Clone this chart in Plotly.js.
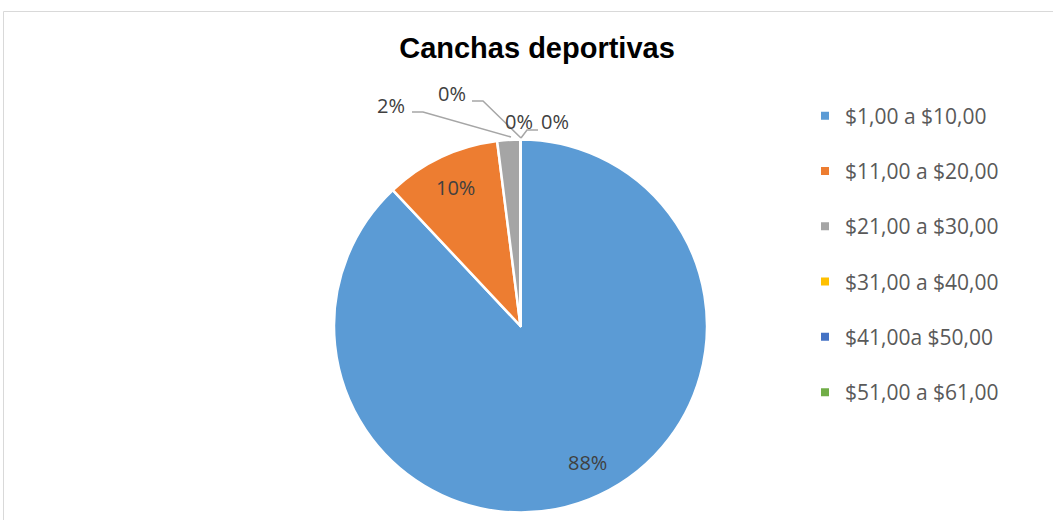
<!DOCTYPE html>
<html>
<head>
<meta charset="utf-8">
<script src="https://cdn.plot.ly/plotly-3.0.1.min.js"></script>
<style>html,body{margin:0;padding:0;background:#fff;}#chart{width:1053px;height:520px;}</style>
</head>
<body>
<div id="chart"></div>
<script>
// ---- data ----
const categories = ["$1,00 a $10,00", "$11,00 a $20,00", "$21,00 a $30,00", "$31,00 a $40,00", "$41,00a $50,00", "$51,00 a $61,00"];
const values = [88, 10, 2, 0, 0, 0];
const colors = ["#5B9BD5", "#ED7D31", "#A5A5A5", "#FFC000", "#4472C4", "#70AD47"];
const chartTitle = "Canchas deportivas";

const W = 1053, H = 520;
const px = x => x / W;
const py = y => 1 - y / H;
const total = values.reduce((a, b) => a + b, 0);
const pctText = v => Math.round(100 * v / total) + "%";

const labelFont = {family: "Open Sans, sans-serif", size: 20, color: "#404040"};

const pie = {
  type: "pie",
  labels: categories,
  values: values,
  sort: false,
  direction: "clockwise",
  rotation: 0,
  marker: {colors: colors, line: {color: "#ffffff", width: 2.5}},
  textinfo: "none",
  showlegend: false,
  hoverinfo: "label+percent",
  domain: {x: [px(334), px(707)], y: [py(512.5), py(139.5)]}
};

// legend entries (library legend, one group per category)
const legendTraces = categories.map((c, i) => ({
  type: "scatter", mode: "markers", x: [null], y: [null],
  name: c, legendgroup: "g" + i,
  marker: {symbol: "square", size: 8, color: colors[i]},
  hoverinfo: "skip"
}));

// data label placement
const labelPos = [
  {i: 0, x: 587, y: 462},
  {i: 1, x: 455, y: 187},
  {i: 2, x: 391, y: 106},
  {i: 3, x: 452, y: 93},
  {i: 4, x: 519, y: 121},
  {i: 5, x: 555, y: 121}
];
const annotations = labelPos.map(o => ({
  xref: "paper", yref: "paper", x: px(o.x), y: py(o.y),
  text: pctText(values[o.i]), showarrow: false,
  xanchor: "center", yanchor: "middle", font: labelFont
}));

const pathOf = pts => "M " + pts.map(p => px(p[0]) + "," + py(p[1])).join(" L ");
const leader = pts => ({type: "path", xref: "paper", yref: "paper", path: pathOf(pts),
  line: {color: "#A6A6A6", width: 1.5}});

const shapes = [
  {type: "rect", xref: "paper", yref: "paper", x0: px(3.5), x1: 1.05, y0: -0.05, y1: py(11.5),
   line: {color: "#D9D9D9", width: 1}, fillcolor: "rgba(0,0,0,0)", layer: "below"},
  leader([[412, 112], [423, 112], [511, 137]]),
  leader([[472, 101], [483, 101], [521, 138]]),
  leader([[521, 138], [527, 130], [538, 130]])
];

const layout = {
  width: W, height: H,
  margin: {l: 0, r: 0, t: 0, b: 0},
  paper_bgcolor: "#ffffff", plot_bgcolor: "#ffffff",
  title: {text: "<b>" + chartTitle + "</b>", x: px(537), xanchor: "center", y: py(48), yanchor: "middle",
          xref: "paper", yref: "paper",
          font: {family: "Liberation Sans, Arial, sans-serif", size: 29, color: "#000000"}},
  xaxis: {visible: false}, yaxis: {visible: false},
  showlegend: true,
  legend: {x: px(805), y: py(95.5), xanchor: "left", yanchor: "top",
           font: {family: "Open Sans, sans-serif", size: 21, color: "#595959"},
           tracegroupgap: 25, bgcolor: "rgba(0,0,0,0)"},
  annotations: annotations,
  shapes: shapes
};

Plotly.newPlot("chart", [pie].concat(legendTraces), layout, {displayModeBar: false, staticPlot: true});
</script>
</body>
</html>
